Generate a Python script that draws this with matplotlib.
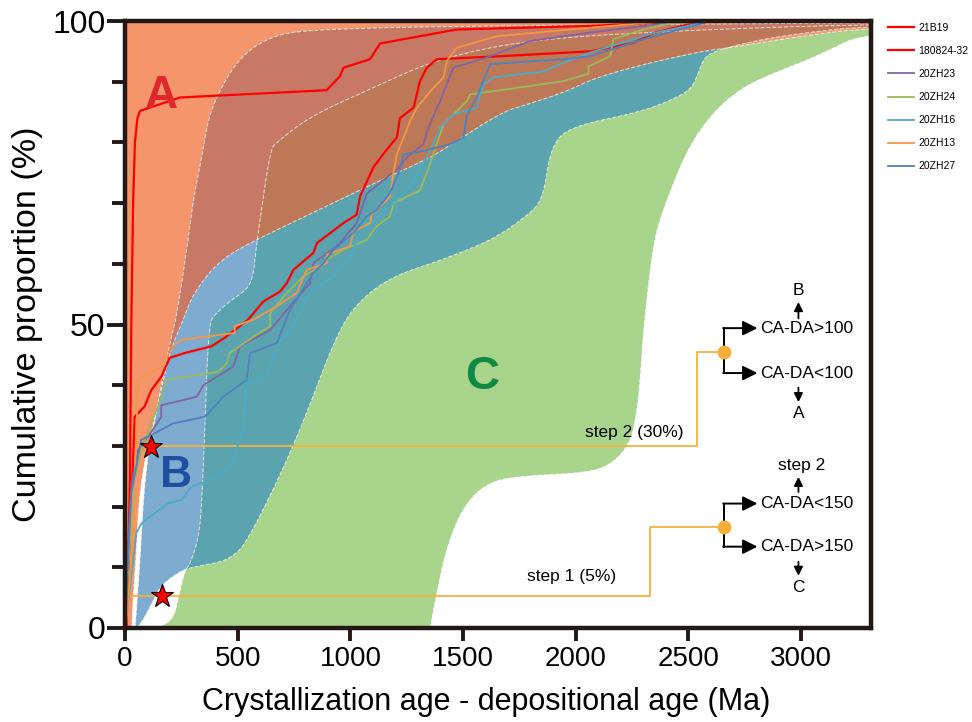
import numpy as np
import matplotlib
matplotlib.use('Agg')
import matplotlib.pyplot as plt

plt.rcParams['font.family'] = ['Liberation Sans', 'DejaVu Sans']

# --- envelope boundaries (x = age difference in Ma, y = cumulative %) ---
ra_x = [30, 36, 50, 61, 90, 105, 150, 190, 214, 250, 303, 422, 584, 800, 1043, 1339, 1417, 1670, 1798, 1966, 2064, 2259, 2555, 2700, 3000, 3320, 5000]
ra_y = [0, 5, 12, 21, 28, 30, 37.6, 44, 46.9, 50, 55.2, 60.7, 64, 67.8, 72.2, 77.2, 78.9, 85, 86.4, 88.5, 90.3, 92.5, 95, 95.7, 97.5, 99, 100]

lb_x = [45, 55, 68, 81, 100, 110, 140, 180, 200, 229, 274, 303, 347, 377, 496, 644, 821, 1500, 3320, 5000]
lb_y = [0, 5, 12, 21, 28, 30, 36, 43.5, 47, 51.3, 62.3, 70.6, 78.8, 85.4, 93.7, 97.5, 98.6, 99.2, 99.7, 100]

rb_x = [52, 81, 126, 155, 229, 289, 479, 570, 762, 940, 1043, 1190, 1411, 1633, 1784, 1855, 1886, 1962, 2286, 2432, 2508, 2539, 2565, 2610, 2800, 3000, 3320, 5000]
rb_y = [0, 1.3, 4.6, 6.8, 9, 10, 11.2, 16.1, 31, 48.6, 54.1, 58, 60.7, 64, 67.9, 70.6, 78.8, 82.5, 85, 87.1, 88.7, 90.9, 93.7, 95, 96.8, 98, 99.3, 100]

lc_x = [140, 213, 235, 265, 289, 333, 348, 363, 377, 392, 451, 540, 569, 584, 644, 673, 821, 1117, 1383, 1798, 2500, 3320, 5000]
lc_y = [0, 1.3, 4.6, 9.5, 10.5, 15.6, 26.6, 43, 50.3, 51.3, 53.5, 55.7, 57.9, 63.4, 78.8, 80, 84.3, 89.3, 93.7, 97, 98.5, 99.5, 100]

rc_x = [1354, 1383, 1428, 1500, 1605, 1738, 2064, 2167, 2242, 2271, 2286, 2300, 2344, 2388, 2494, 2610, 2730, 2850, 3071, 3320, 5000]
rc_y = [0, 5.8, 13.4, 20, 23.9, 25, 25.6, 27.2, 30.5, 35.4, 40.9, 49.2, 63.5, 69, 78.9, 85, 88.8, 91, 94.2, 98.8, 100]

# --- sample cumulative curves ---
samples = ['21B19', '180824-32', '20ZH23', '20ZH24', '20ZH16', '20ZH13', '20ZH27']
colors = ['#FF0000', '#FF0000', '#8064A2', '#9BBB59', '#4BACC6', '#F79646', '#4F81BD']

b21_x = [0, 8, 15, 22, 28, 36, 44, 55, 67, 244, 895, 954, 969, 1087, 1132, 1309, 1472, 2064, 2552]
b21_y = [0, 5, 12, 25, 50, 70, 80, 84, 85.2, 87.4, 88.6, 90.9, 92.3, 93.7, 96.3, 97.5, 98.6, 99.2, 100]

s18_x = [0, 6, 21, 36, 43, 87, 117, 161, 198, 265, 383, 442, 546, 614, 687, 718, 747, 836, 851, 969, 1028, 1043, 1102, 1161, 1206, 1220, 1280, 1309, 1339, 1383, 1664, 2064, 2255, 2344, 2494, 2552]
s18_y = [0, 0, 15.6, 27.7, 34.8, 36.5, 39.2, 41.4, 44.5, 45.3, 46.4, 47.8, 50.8, 53.8, 55.4, 56.8, 59, 61.8, 63.4, 66.7, 68.1, 71.1, 75.9, 78.8, 80.8, 84, 85.7, 90.1, 92.3, 93.7, 94.2, 95, 96.4, 98, 99.4, 100]

zh23_x = [0, 10, 20, 30, 58, 102, 161, 161, 318, 348, 481, 510, 644, 718, 821, 836, 940, 1028, 1073, 1206, 1250, 1324, 1339, 1398, 1457, 1605, 1798, 2064, 2480]
zh23_y = [0, 8, 18, 24, 29.3, 31.5, 34.8, 36.7, 38.1, 40, 43.1, 46.4, 49.1, 52.4, 56.8, 60.1, 62.9, 66.7, 71.6, 75.5, 77.5, 79.7, 81.8, 86.8, 92.3, 94, 96.7, 98.1, 100]

zh24_x = [0, 12, 36, 72, 110, 146, 183, 413, 451, 466, 570, 644, 644, 718, 791, 866, 895, 969, 1073, 1117, 1176, 1191, 1309, 1354, 1413, 1517, 1531, 1798, 1945, 2056, 2056, 2153, 2167, 2300, 2404, 2600]
zh24_y = [0, 8, 23.3, 29.3, 33.2, 36.5, 40.9, 42.2, 43.6, 45.3, 48, 49.7, 51.9, 55.2, 57.9, 59.6, 60.7, 62.3, 64, 66.2, 67.8, 70, 72.1, 76.5, 83, 86.8, 87.9, 89.3, 90.1, 91.3, 92.5, 94.2, 97, 98.6, 99.5, 100]

zh16_x = [0, 21, 50, 72, 132, 191, 250, 295, 383, 472, 494, 525, 540, 629, 688, 732, 821, 925, 999, 1043, 1191, 1265, 1339, 1398, 1457, 1561, 1590, 1635, 1857, 1945, 2064, 2344, 2600]
zh16_y = [0, 6.2, 15.6, 17.2, 18.9, 20.5, 21.1, 23.3, 24.4, 26.6, 29.3, 33, 40.3, 41.4, 47.5, 48.8, 55.2, 57.9, 61.2, 65.1, 70, 72.8, 77.5, 82.4, 84.6, 85.7, 89.6, 90.7, 91.7, 93.1, 94.8, 98, 100]

zh13_x = [0, 7, 36, 58, 161, 213, 250, 487, 487, 546, 570, 673, 762, 806, 895, 895, 999, 1013, 1087, 1095, 1176, 1191, 1206, 1265, 1295, 1354, 1413, 1428, 1472, 1650, 2064, 2255, 2420]
zh13_y = [0, 1.3, 15.6, 40.9, 43.1, 46.4, 47.5, 48.6, 49.7, 50.5, 50.8, 53, 55.2, 59, 60.1, 61.5, 62.9, 65.3, 66.7, 68.1, 71.1, 75, 78, 83.5, 85.7, 88.4, 90.7, 93.4, 95.6, 97.5, 98.9, 99.5, 100]

zh27_x = [0, 10, 28, 72, 132, 213, 354, 398, 436, 540, 555, 673, 732, 836, 880, 925, 1013, 1073, 1117, 1176, 1220, 1235, 1324, 1443, 1502, 1517, 1561, 1620, 1945, 2064, 2300, 2600]
zh27_y = [0, 8, 22.2, 31, 32.1, 33.7, 34.8, 36.5, 38.1, 40.9, 45.3, 46.9, 52.4, 58.5, 60.1, 62.3, 65.1, 67.8, 68.9, 71.7, 75.5, 78, 78.6, 79.7, 80.8, 84.6, 87.4, 92.9, 93.7, 94.2, 97, 100]

series_x = [b21_x, s18_x, zh23_x, zh24_x, zh16_x, zh13_x, zh27_x]
series_y = [b21_y, s18_y, zh23_y, zh24_y, zh16_y, zh13_y, zh27_y]
widths = [1.6, 1.6, 1.3, 1.3, 1.3, 1.3, 1.3]

# step thresholds
step2_x = [0, 2537, 2537, 2656]
step2_y = [30, 30, 45.4, 45.4]
step1_x = [20, 2330, 2330, 2656]
step1_y = [5.2, 5.2, 16.7, 16.7]
star_x = [117, 166]
star_y = [29.8, 5.2]

c_a = '#F4956B'
c_b = '#7EABD0'
c_c = '#A9D48B'
c_ab = '#C77966'
c_bc = '#5BA3AE'
c_ac = '#F09C78'
c_abc = '#BC7857'


def chaikin(x, y, n=4):
    # rounds the corners of the envelope outlines
    p = np.column_stack([x, y]).astype(float)
    for _ in range(n):
        q = 0.75 * p[:-1] + 0.25 * p[1:]
        r = 0.25 * p[:-1] + 0.75 * p[1:]
        mid = np.empty((2 * len(q), 2))
        mid[0::2] = q
        mid[1::2] = r
        p = np.vstack([p[0], mid, p[-1]])
    return p[:, 0], p[:, 1]


fig = plt.figure(figsize=(9.72, 7.22), dpi=100)
ax = fig.add_axes([0.1286, 0.1302, 0.7675, 0.8407])

yy = np.linspace(0, 100, 5001)
curves = {}
for key, bx, by in [('ra', ra_x, ra_y), ('lb', lb_x, lb_y), ('rb', rb_x, rb_y),
                    ('lc', lc_x, lc_y), ('rc', rc_x, rc_y)]:
    sx, sy = chaikin(bx, by)
    curves[key] = (sx, sy)

ra = np.interp(yy, curves['ra'][1], curves['ra'][0])
lb = np.interp(yy, curves['lb'][1], curves['lb'][0])
rb = np.interp(yy, curves['rb'][1], curves['rb'][0])
lc = np.interp(yy, curves['lc'][1], curves['lc'][0])
rc = np.interp(yy, curves['rc'][1], curves['rc'][0])
la = np.full_like(yy, -200.0)


def band(left, right, color):
    ax.fill_betweenx(yy, left, right, where=left < right, color=color, lw=0, zorder=1)


band(la, ra, c_a)
band(lb, rb, c_b)
band(lc, rc, c_c)
band(lb, np.minimum(ra, rb), c_ab)
band(np.maximum(lb, lc), np.minimum(rb, rc), c_bc)
band(lc, np.minimum(ra, rc), c_ac)
band(np.maximum(lb, lc), np.minimum(np.minimum(ra, rb), rc), c_abc)

for sx, sy in curves.values():
    ax.plot(sx, sy, color='white', lw=0.7, ls=(0, (4, 2)), alpha=0.75, zorder=2)

# step lines
ax.plot(step2_x, step2_y, color='#F7B13A', lw=1.3, zorder=3)
ax.plot(step1_x, step1_y, color='#F7B13A', lw=1.3, zorder=3)
ax.plot([2656, 2656], [45.4, 16.7], 'o', color='#F7B13A', ms=9, zorder=6)

for i, name in enumerate(samples):
    ax.plot(series_x[i], series_y[i], color=colors[i], lw=widths[i], label=name, zorder=4)

ax.plot(star_x, star_y, '*', color='red', mec='black', mew=0.8, ms=17, zorder=7)

# flowchart
for y0, y1 in [(42, 49.4), (13.4, 20.5)]:
    ax.plot([2656, 2656], [y0, y1], color='black', lw=1.4, zorder=5)
    for yv in (y0, y1):
        ax.annotate('', xy=(2806, yv), xytext=(2654, yv),
                    arrowprops=dict(arrowstyle='-|>', color='black', lw=1.4,
                                    mutation_scale=22, shrinkA=0, shrinkB=0), zorder=5)

flow_txt = [('CA-DA>100', 49.4), ('CA-DA<100', 42), ('CA-DA<150', 20.5), ('CA-DA>150', 13.4)]
for t, yv in flow_txt:
    ax.text(2818, yv, t, fontsize=12.5, ha='left', va='center', zorder=6)

small_arrows = [(51.0, 53.7), (39.6, 37.2), (22.4, 24.9), (10.9, 8.6)]
for y0, y1 in small_arrows:
    ax.annotate('', xy=(2988, y1), xytext=(2988, y0),
                arrowprops=dict(arrowstyle='-|>', color='black', lw=1.3,
                                mutation_scale=13, shrinkA=0, shrinkB=0), zorder=5)
ax.text(2988, 55.6, 'B', fontsize=12.5, ha='center', va='center')
ax.text(2988, 35.3, 'A', fontsize=12.5, ha='center', va='center')
ax.text(3000, 26.8, 'step 2', fontsize=12.5, ha='center', va='center')
ax.text(2988, 6.7, 'C', fontsize=12.5, ha='center', va='center')

ax.text(2478, 32.2, 'step 2 (30%)', fontsize=12.5, ha='right', va='center', zorder=6)
ax.text(2180, 8.5, 'step 1 (5%)', fontsize=12.5, ha='right', va='center', zorder=6)

ax.text(162, 87.6, 'A', fontsize=33, fontweight='bold', color='#E0282B', ha='center', va='center', zorder=6)
ax.text(226, 25.2, 'B', fontsize=32, fontweight='bold', color='#1F4FA0', ha='center', va='center', zorder=6)
ax.text(1585, 41.4, 'C', fontsize=34, fontweight='bold', color='#0F8A45', ha='center', va='center', zorder=6)

ax.set_xlim(0, 3310)
ax.set_ylim(0, 100)
ax.set_xticks([0, 500, 1000, 1500, 2000, 2500, 3000])
ax.set_yticks([0, 50, 100])
ax.set_yticks([10, 20, 30, 40, 60, 70, 80, 90], minor=True)
ax.tick_params(axis='x', direction='out', length=9, width=2.8, labelsize=20, color='#231815', pad=4)
ax.tick_params(axis='y', which='major', direction='out', length=13, width=2.8, labelsize=23, color='#231815', pad=1)
ax.tick_params(axis='y', which='minor', direction='out', length=9.5, width=2.8, color='#231815')
for sp in ax.spines.values():
    sp.set_linewidth(3.2)
    sp.set_color('#231815')
    sp.set_zorder(10)

ax.set_xlabel('Crystallization age - depositional age (Ma)', fontsize=22)
ax.set_ylabel('Cumulative proportion (%)', fontsize=24.5)
ax.xaxis.set_label_coords(0.484, -0.097)
ax.yaxis.set_label_coords(-0.110, 0.5)

fig.legend(loc='upper left', bbox_to_anchor=(0.914, 0.968), frameon=False,
           fontsize=7.5, handlelength=2.5, handletextpad=0.4, labelspacing=1.25,
           borderpad=0, borderaxespad=0)

fig.savefig('out.png', dpi=100)
